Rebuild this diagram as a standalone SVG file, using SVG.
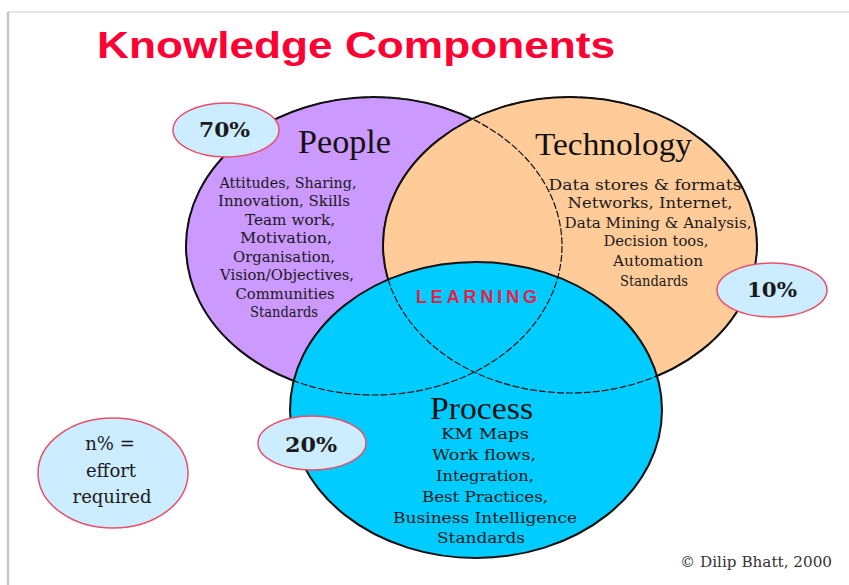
<svg xmlns="http://www.w3.org/2000/svg" width="849" height="585" viewBox="0 0 849 585">
<style>
.circ{stroke:#111;stroke-width:2}
.dash{fill:none;stroke:#111;stroke-width:1.2;stroke-dasharray:7 2}
.bub{fill:#CCECFF;stroke:#E8506A;stroke-width:1.5}
.head{font-family:"Liberation Serif",serif;fill:#111}
.body{font-family:"DejaVu Serif",serif;fill:#1a1a1a;text-anchor:middle}
.pct{font-family:"DejaVu Serif",serif;font-weight:bold;fill:#1a1a1a;font-size:20px}
</style>
<rect width="849" height="585" fill="#ffffff"/>
<line x1="7" y1="12" x2="849" y2="12" stroke="#dcdcdc" stroke-width="1.5"/>
<line x1="8" y1="12" x2="8" y2="585" stroke="#c8c8c8" stroke-width="2.5"/>
<text x="97" y="58" font-family="Liberation Sans,Arial,sans-serif" font-weight="bold" font-size="36" fill="#FF0033" textLength="518" lengthAdjust="spacingAndGlyphs">Knowledge Components</text>

<g id="node-people">
<ellipse class="circ" cx="374" cy="246" rx="188" ry="149" fill="#CC99FF"/>
</g>
<g id="node-technology">
<ellipse class="circ" cx="570" cy="245" rx="187" ry="148" fill="#FFCC99"/>
</g>
<g id="node-process">
<ellipse class="circ" cx="476" cy="410" rx="186" ry="148" fill="#00CCFF"/>
</g>
<g id="outlines">
<ellipse class="dash" cx="374" cy="246" rx="188" ry="149"/>
<ellipse class="dash" cx="570" cy="245" rx="187" ry="148"/>
</g>

<g id="label-people">
<text class="head" x="298" y="153" font-size="33" textLength="93" lengthAdjust="spacingAndGlyphs">People</text>
<g class="body" font-size="14">
<text x="288" y="188" textLength="137" lengthAdjust="spacingAndGlyphs">Attitudes, Sharing,</text>
<text x="284" y="206" textLength="132" lengthAdjust="spacingAndGlyphs">Innovation, Skills</text>
<text x="290" y="225" textLength="90" lengthAdjust="spacingAndGlyphs">Team work,</text>
<text x="286" y="243" textLength="92" lengthAdjust="spacingAndGlyphs">Motivation,</text>
<text x="284" y="262" textLength="102" lengthAdjust="spacingAndGlyphs">Organisation,</text>
<text x="287" y="280" textLength="134" lengthAdjust="spacingAndGlyphs">Vision/Objectives,</text>
<text x="285" y="299" textLength="99" lengthAdjust="spacingAndGlyphs">Communities</text>
<text x="284" y="317" textLength="68" lengthAdjust="spacingAndGlyphs">Standards</text>
</g>
</g>

<g id="label-technology">
<text class="head" x="535" y="155" font-size="32" textLength="157" lengthAdjust="spacingAndGlyphs">Technology</text>
<g class="body" font-size="14">
<text x="645" y="190" textLength="193" lengthAdjust="spacingAndGlyphs">Data stores &amp; formats</text>
<text x="650" y="208" textLength="165" lengthAdjust="spacingAndGlyphs">Networks, Internet,</text>
<text x="658" y="228" textLength="187" lengthAdjust="spacingAndGlyphs">Data Mining &amp; Analysis,</text>
<text x="656" y="246" textLength="105" lengthAdjust="spacingAndGlyphs">Decision toos,</text>
<text x="658" y="266" textLength="90" lengthAdjust="spacingAndGlyphs">Automation</text>
<text x="654" y="286" textLength="68" lengthAdjust="spacingAndGlyphs">Standards</text>
</g>
</g>

<g id="label-process">
<text class="head" x="430" y="419" font-size="32" textLength="103" lengthAdjust="spacingAndGlyphs">Process</text>
<g class="body" font-size="15">
<text x="485" y="439" textLength="88" lengthAdjust="spacingAndGlyphs">KM Maps</text>
<text x="484" y="460" textLength="104" lengthAdjust="spacingAndGlyphs">Work flows,</text>
<text x="485" y="481" textLength="98" lengthAdjust="spacingAndGlyphs">Integration,</text>
<text x="485" y="502" textLength="126" lengthAdjust="spacingAndGlyphs">Best Practices,</text>
<text x="485" y="523" textLength="184" lengthAdjust="spacingAndGlyphs">Business Intelligence</text>
<text x="481" y="543" textLength="88" lengthAdjust="spacingAndGlyphs">Standards</text>
</g>
</g>

<g id="node-learning">
<text x="416" y="303" font-family="Liberation Sans,Arial,sans-serif" font-weight="bold" font-size="18" fill="#E8204A" textLength="121" lengthAdjust="spacing">LEARNING</text>
</g>

<g id="node-70">
<ellipse class="bub" cx="226" cy="130" rx="53" ry="27"/>
<text class="pct" x="199" y="137" textLength="51" lengthAdjust="spacingAndGlyphs">70%</text>
</g>
<g id="node-10">
<ellipse class="bub" cx="772" cy="290" rx="55" ry="27"/>
<text class="pct" x="747" y="297" textLength="50" lengthAdjust="spacingAndGlyphs">10%</text>
</g>
<g id="node-20">
<ellipse class="bub" cx="312" cy="443" rx="54" ry="27"/>
<text class="pct" x="285" y="452" textLength="52" lengthAdjust="spacingAndGlyphs">20%</text>
</g>
<g id="node-legend">
<ellipse class="bub" cx="113" cy="473" rx="75" ry="55"/>
<g class="body" font-size="18">
<text x="110" y="450">n% =</text>
<text x="111" y="477">effort</text>
<text x="112" y="503">required</text>
</g>
</g>

<text x="680" y="567" font-family="DejaVu Serif,serif" font-size="14" fill="#333" textLength="152" lengthAdjust="spacingAndGlyphs">© Dilip Bhatt, 2000</text>
</svg>
